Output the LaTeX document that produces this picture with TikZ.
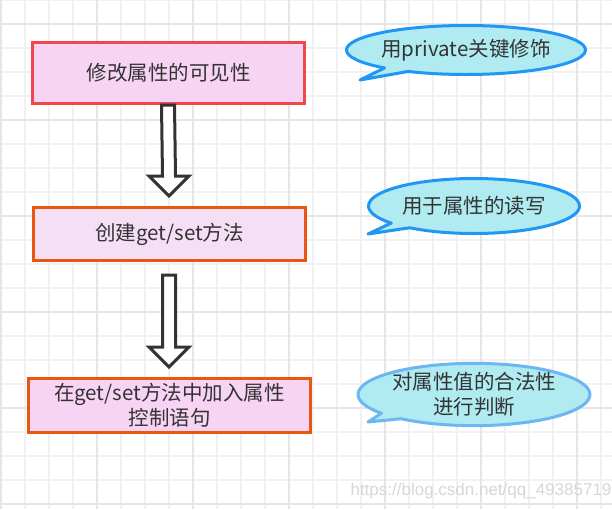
\documentclass[tikz,border=0pt]{standalone}
\usepackage{fontspec}
\setmainfont{Noto Sans CJK SC}
\newfontfamily\wmfont{Liberation Sans}
\usetikzlibrary{calc,shapes.callouts}
\definecolor{gridlight}{HTML}{F1F1F1}
\definecolor{griddark}{HTML}{E6E6E6}
\definecolor{redborder}{HTML}{F2474A}
\definecolor{orangeborder}{HTML}{E8560F}
\definecolor{pinkfill}{HTML}{F7D4F4}
\definecolor{pinklight}{HTML}{F5DFF4}
\definecolor{cyanfill}{HTML}{B0EBF2}
\definecolor{bluebord}{HTML}{2196F3}
\definecolor{bluelight}{HTML}{6CB6F2}
\definecolor{txt}{HTML}{333333}
\definecolor{arrowstroke}{HTML}{333333}
\newcommand\myblockarrow[2]{%
  \draw[blockarr] ($(#1)+(-6.5,0)$) -- ($(#2)+(-6.5,-20)$) -- ($(#2)+(-20,-20)$) -- (#2)
    -- ($(#2)+(20,-20)$) -- ($(#2)+(6.5,-20)$) -- ($(#1)+(6.5,0)$) -- cycle;}
\begin{document}
\begin{tikzpicture}[x=1pt,y=-1pt,
  procbox/.style={rectangle, line width=3pt, text=txt, align=center, inner sep=0pt,
    font=\fontsize{20.5}{25}\selectfont},
  bubble/.style={ellipse callout, callout pointer arc=14, line width=3pt, line join=round,
    fill=cyanfill, text=txt, align=center, inner sep=0pt, font=\fontsize{20.5}{25}\selectfont},
  blockarr/.style={draw=arrowstroke, fill=white, line width=3pt, line join=miter},
  gridl/.style={draw=gridlight, line width=1.5pt},
  gridd/.style={draw=griddark, line width=1.5pt}]
\useasboundingbox (0,0) rectangle (612,509);
\fill[white] (0,0) rectangle (612,509);
% grid
\foreach \x in {1,25,...,601} \draw[gridl] (\x,0) -- (\x,509);
\foreach \y in {0,24,...,504} \draw[gridl] (0,\y) -- (612,\y);
\foreach \x in {1,97,...,577} \draw[gridd] (\x,0) -- (\x,509);
\foreach \y in {24,120,...,504} \draw[gridd] (0,\y) -- (612,\y);
% boxes
\node[procbox, draw=redborder, fill=pinkfill, minimum width=272, minimum height=61] (b1) at (168.5,73) {修改属性的可见性};
\node[procbox, draw=orangeborder, fill=pinklight, minimum width=272, minimum height=53] (b2) at (169.5,234) {创建get/set方法};
\node[procbox, draw=orangeborder, fill=pinkfill, minimum width=282, minimum height=54] (b3) at (169.5,405.5) {在get/set方法中加入属性\\控制语句};
% arrows
\coordinate (a1s) at ($(b1.south)+(-0.5,0)$);
\coordinate (a1e) at ($(b2.north)+(-0.5,-10)$);
\coordinate (a2s) at ($(b2.south)+(-0.5,13)$);
\coordinate (a2e) at ($(b3.north)+(-0.5,-10)$);
\myblockarrow{a1s}{a1e}
\myblockarrow{a2s}{a2e}
% callouts
\coordinate (t1) at (360,80);
\coordinate (t2) at (368,234);
\coordinate (t3) at (368,422);
\node[bubble, draw=bluebord, minimum width=213, minimum height=49, callout absolute pointer=(t1)] (c1) at (466,50) {用private关键修饰};
\node[bubble, draw=bluebord, minimum width=211, minimum height=55, callout absolute pointer=(t2)] (c2) at (474,206) {用于属性的读写};
\node[bubble, draw=bluelight, minimum width=211, minimum height=56, callout absolute pointer=(t3)] (c3) at (474,394.5) {对属性值的合法性\\进行判断};
% watermark
\node[text=griddark!85!gray, font=\wmfont\fontsize{17}{20}\selectfont, inner sep=0pt] (wm) at (481,491) {https://blog.csdn.net/qq\_49385719};
\end{tikzpicture}
\end{document}
